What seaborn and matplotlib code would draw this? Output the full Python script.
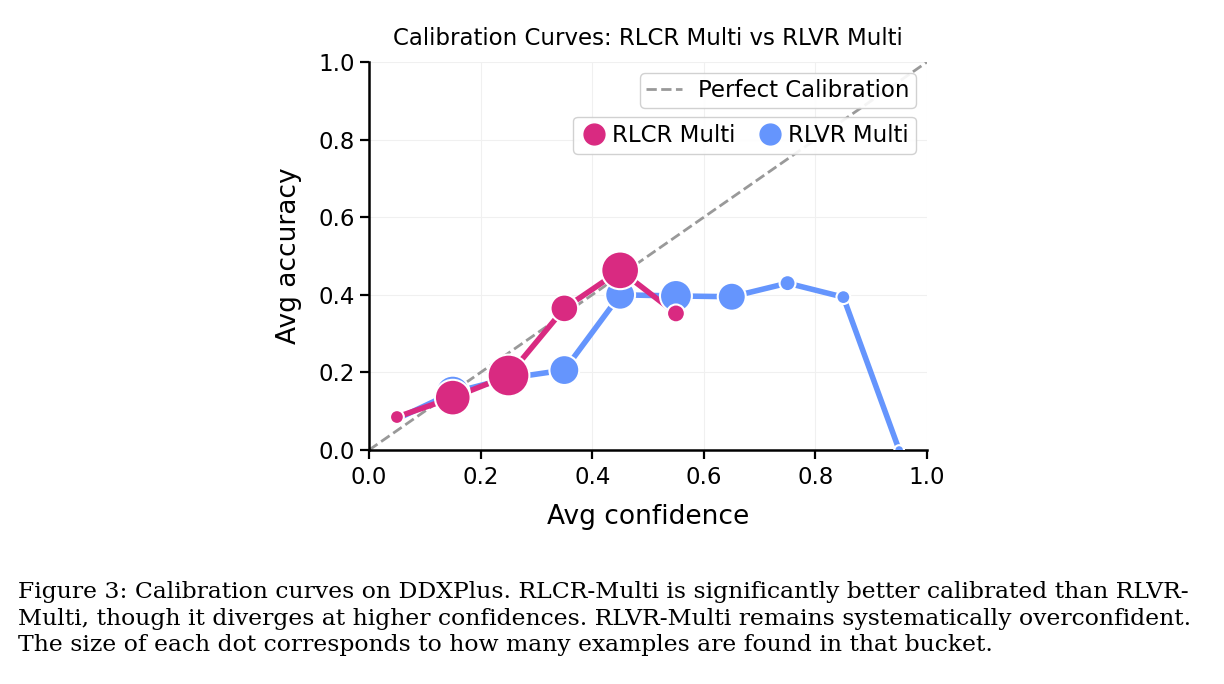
import numpy as np
import pandas as pd
import matplotlib
matplotlib.use('Agg')
import matplotlib.pyplot as plt
from matplotlib.lines import Line2D
import seaborn as sns

# Bucket centres and accuracies
rlcr_conf = [0.05, 0.15, 0.25, 0.35, 0.45, 0.55]
rlcr_acc = [0.085, 0.135, 0.192, 0.365, 0.463, 0.352]
rlcr_count = [45, 300, 410, 180, 335, 75]

rlvr_conf = [0.05, 0.15, 0.25, 0.35, 0.45, 0.55, 0.65, 0.75, 0.85, 0.95]
rlvr_acc = [0.08, 0.148, 0.185, 0.206, 0.40, 0.397, 0.395, 0.43, 0.394, 0.0]
rlvr_count = [30, 270, 200, 210, 210, 240, 185, 60, 45, 22]

series_names = ['RLCR Multi', 'RLVR Multi']
series_colors = ['#d92a81', '#6595fd']

caption_lines = [
    'Figure 3: Calibration curves on DDXPlus. RLCR-Multi is significantly better calibrated than RLVR-',
    'Multi, though it diverges at higher confidences. RLVR-Multi remains systematically overconfident.',
    'The size of each dot corresponds to how many examples are found in that bucket.',
]

df = pd.concat([
    pd.DataFrame({'conf': rlcr_conf, 'acc': rlcr_acc, 'count': rlcr_count, 'model': series_names[0]}),
    pd.DataFrame({'conf': rlvr_conf, 'acc': rlvr_acc, 'count': rlvr_count, 'model': series_names[1]}),
], ignore_index=True)

sns.set_style('white')
plt.rcParams['font.family'] = ['DejaVu Sans']
plt.rcParams['text.color'] = 'black'
plt.rcParams['axes.labelcolor'] = 'black'

fig = plt.figure(figsize=(12.24, 6.84), dpi=100)
ax = fig.add_axes([0.3015, 0.3421, 0.4559, 0.5673])

palette = dict(zip(series_names, series_colors))

# draw blue first so pink sits on top
order = [series_names[1], series_names[0]]
cmin, cmax = df['count'].min(), df['count'].max()
k = 2.2
for name in order:
    sub = df[df['model'] == name]
    sns.lineplot(data=sub, x='conf', y='acc', color=palette[name], lw=4, ax=ax,
                 legend=False, sort=False)
    sns.scatterplot(data=sub, x='conf', y='acc', size='count', sizes=(cmin * k, cmax * k),
                    size_norm=(cmin, cmax), color=palette[name], edgecolor='white',
                    linewidth=1.5, legend=False, ax=ax, zorder=3)

diag, = ax.plot([0, 1], [0, 1], ls='--', color='#999999', lw=2, zorder=1)

ax.set_xlim(0, 1)
ax.set_ylim(0, 1)
ax.set_xticks(np.arange(0, 1.01, 0.2))
ax.set_yticks(np.arange(0, 1.01, 0.2))
ax.tick_params(labelsize=16.5, length=6.5, width=1.6, direction='out', bottom=True, left=True,
               colors='black')
ax.tick_params(axis='x', pad=5)
ax.grid(True, color='#f0f0f0', lw=0.8)
ax.set_axisbelow(True)
for s in ['left', 'bottom']:
    ax.spines[s].set_linewidth(1.8)
    ax.spines[s].set_color('black')
sns.despine(ax=ax)

ax.set_xlabel('Avg confidence', fontsize=19, labelpad=11)
ax.set_ylabel('Avg accuracy', fontsize=19, labelpad=12)
ax.set_title('Calibration Curves: RLCR Multi vs RLVR Multi', fontsize=16.5, pad=12)

leg1 = ax.legend([diag], ['Perfect Calibration'], loc='upper right',
                 fontsize=16.5, frameon=True, edgecolor='#cccccc', framealpha=0.9,
                 borderpad=0.25, handlelength=1.6, handletextpad=0.7)
ax.add_artist(leg1)
handles = [Line2D([], [], marker='o', ls='', color=c, markersize=15) for c in series_colors]
ax.legend(handles, series_names, loc='upper right', bbox_to_anchor=(1.0, 0.888), ncol=2,
          fontsize=16.5, frameon=True, edgecolor='#cccccc', framealpha=0.9,
          handletextpad=0.2, columnspacing=0.9, borderpad=0.3, handlelength=1.2)

for i, line in enumerate(caption_lines):
    fig.text(0.015, 1 - (592 + i * 26.5) / 684, line, fontsize=16.9, color='black',
             family='DejaVu Serif', va='center', ha='left')

fig.savefig('out.png', dpi=100)
